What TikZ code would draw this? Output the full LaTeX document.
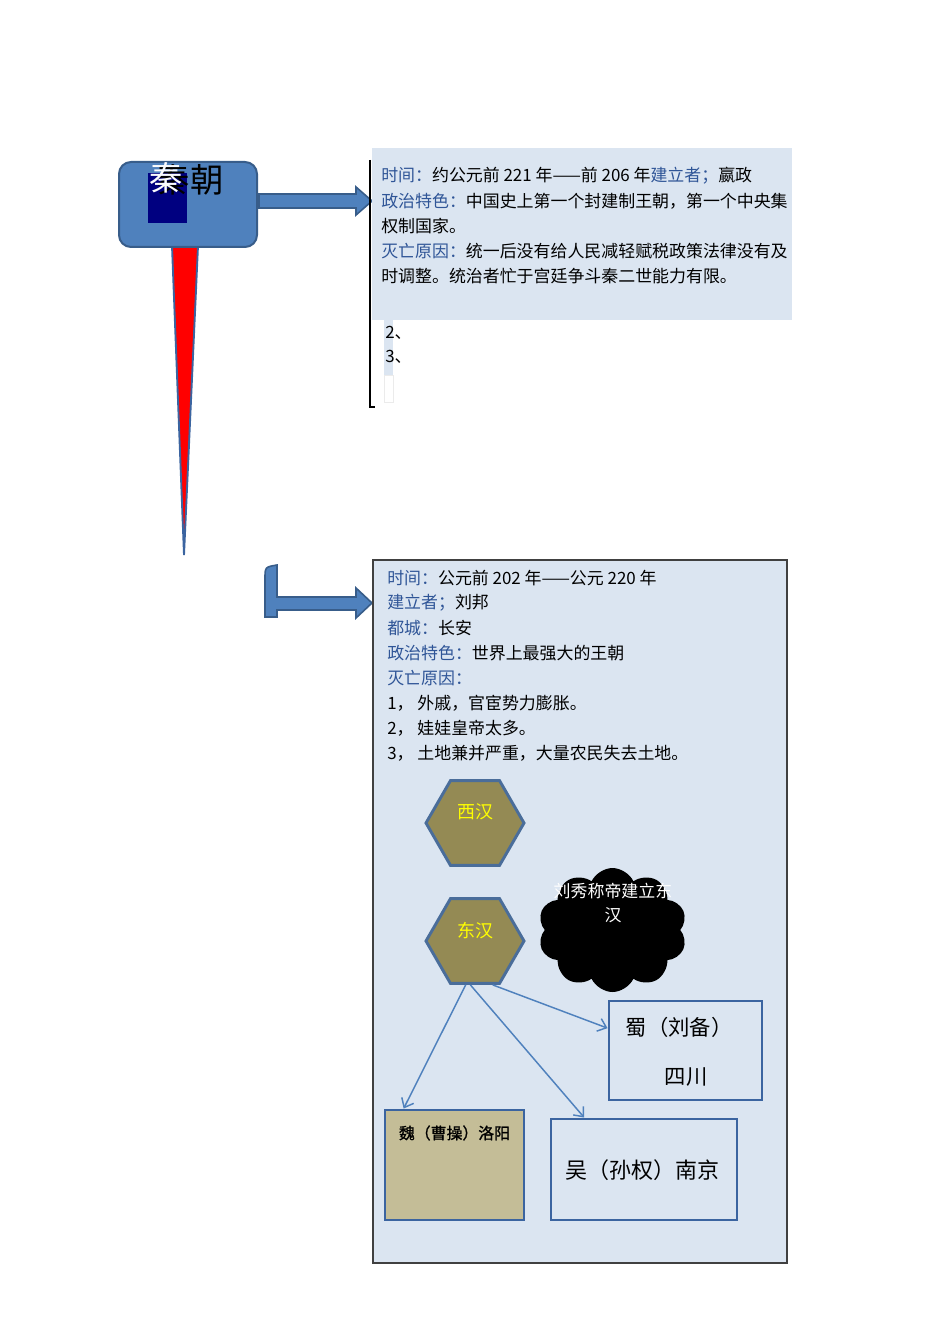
\documentclass[tikz,border=0pt]{standalone}
\usepackage{fontspec}
\newfontfamily\cjk{Noto Sans CJK SC}
\newfontfamily\cjkb[FakeBold=1.2]{Noto Sans CJK SC}
\usetikzlibrary{shapes.geometric,shapes.symbols,arrows.meta,calc}
\definecolor{bfill}{HTML}{4F81BD}
\definecolor{bdraw}{HTML}{385D8A}
\definecolor{lbg}{HTML}{DBE5F1}
\definecolor{lab}{HTML}{2F5597}
\definecolor{olivec}{HTML}{948A54}
\definecolor{hexb}{HTML}{4A6D9A}
\definecolor{boxb}{HTML}{3B64A0}
\definecolor{tanc}{HTML}{C4BD97}
\definecolor{navyc}{HTML}{000080}
\definecolor{yel}{HTML}{FFFF00}
\begin{document}
\begin{tikzpicture}[x=0.75pt,y=-0.75pt,
  txt/.style={anchor=west,inner sep=0pt,font=\cjk\fontsize{12.7pt}{15pt}\selectfont},
  hexa/.style={regular polygon,regular polygon sides=6,minimum size=73.5pt,inner sep=0pt,fill=olivec,draw=hexb,line width=2.2pt},
  hextxt/.style={inner sep=0pt,text=yel,font=\cjk\fontsize{13.5pt}{15pt}\selectfont},
  kbox/.style={rectangle,inner sep=0pt,draw=boxb,line width=2.2pt},
  conn/.style={draw=bfill,line width=1.1pt,-{Straight Barb[length=6pt,width=10pt]}},
  blockarrow/.style={fill=bfill,draw=bdraw,line width=1.2pt,line join=miter}]
\useasboundingbox (0,0) rectangle (950,1344);

% ---- Qin ----
\draw[fill=red,draw=boxb,line width=1.4pt] (172,246) -- (198,246) -- (184,555) -- cycle;
\node[rectangle,rounded corners=9pt,fill=bfill,draw=bdraw,line width=1.5pt,minimum width=103.5pt,minimum height=63.75pt,inner sep=0pt] (qin) at (188,204.5) {};
\node[rectangle,fill=navyc,minimum width=29.25pt,minimum height=37.5pt,inner sep=0pt] (qinnavy) at (167.5,198) {};
\node[inner sep=0pt,font=\cjk\fontsize{25pt}{28pt}\selectfont] (qinb) at (190,180) {秦朝};
\node[inner sep=0pt,text=white!85!lbg,font=\cjk\fontsize{25pt}{28pt}\selectfont] (qinw) at (166,178) {秦};

\draw[blockarrow] (259,194) -- (356,194) -- (356,187) -- (372,201) -- (356,215) -- (356,208) -- (259,208) -- cycle;

% ---- Qin text box ----
\node[rectangle,fill=lbg,minimum width=315pt,minimum height=129pt,inner sep=0pt] (qinbox) at (582,234) {};
\draw[line width=1pt] (370,160) -- (370,407) -- (375,407);
\fill[lbg] (384,320) rectangle (393,375);
\draw[fill=white,draw=black!8] (384,375) rectangle (393,402);
\node[txt] (q1) at (381,176) {\textcolor{lab}{时间：}约公元前 221 年——前 206 年\textcolor{lab}{建立者；}嬴政};
\node[txt] (q2) at (381,201) {\textcolor{lab}{政治特色：}中国史上第一个封建制王朝，第一个中央集};
\node[txt] (q3) at (381,226) {权制国家。};
\node[txt] (q4) at (381,251) {\textcolor{lab}{灭亡原因：}统一后没有给人民减轻赋税政策法律没有及};
\node[txt] (q5) at (381,276) {时调整。统治者忙于宫廷争斗秦二世能力有限。};
\node[txt] (q6) at (385,333) {2、};
\node[txt] (q7) at (385,357) {3、};

% ---- Han ----
\draw[blockarrow] (265,617) -- (265,579) .. controls (265,567) .. (277,565) -- (277,597) -- (356,597) -- (356,588) -- (372,603) -- (356,618) -- (356,610) -- (277,610) -- (277,617) -- cycle;

\node[rectangle,fill=lbg,draw=black!75,line width=1pt,minimum width=310.5pt,minimum height=527.25pt,inner sep=0pt] (hanbox) at (580,911.5) {};
\node[txt] (h1) at (387,578) {\textcolor{lab}{时间：}公元前 202 年——公元 220 年};
\node[txt] (h2) at (387,603) {\textcolor{lab}{建立者；}刘邦};
\node[txt] (h3) at (387,628) {\textcolor{lab}{都城：}长安};
\node[txt] (h4) at (387,653) {\textcolor{lab}{政治特色：}世界上最强大的王朝};
\node[txt] (h5) at (387,678) {\textcolor{lab}{灭亡原因：}};
\node[txt] (h6) at (387,703) {1， 外戚，官宦势力膨胀。};
\node[txt] (h7) at (387,728) {2， 娃娃皇帝太多。};
\node[txt] (h8) at (387,753) {3， 土地兼并严重，大量农民失去土地。};

\node[hexa] (xh) at (475,823) {};
\node[hextxt] (xht) at (475,812) {西汉};
\node[hexa] (dh) at (475,941) {};
\node[hextxt] (dht) at (475,931) {东汉};

\node[cloud,cloud puffs=10,cloud puff arc=130,aspect=1.2,fill=black,minimum width=111.75pt,minimum height=93pt,inner sep=0pt] (yun) at (612.5,930) {};
\node[inner sep=0pt,text=white,font=\cjk\fontsize{12.7pt}{15pt}\selectfont] (yt1) at (613,891) {刘秀称帝建立东};
\node[inner sep=0pt,text=white,font=\cjk\fontsize{12.7pt}{15pt}\selectfont] (yt2) at (613,915) {汉};

\node[kbox,fill=lbg,minimum width=114.75pt,minimum height=74.25pt] (shu) at (685.5,1050.5) {};
\node[inner sep=0pt,font=\cjk\fontsize{16pt}{18pt}\selectfont] (shu1) at (679,1027) {蜀（刘备）};
\node[inner sep=0pt,font=\cjk\fontsize{16pt}{18pt}\selectfont] (shu2) at (686,1077) {四川};

\node[kbox,fill=tanc,minimum width=104.25pt,minimum height=82.5pt] (wei) at (454.5,1165) {};
\node[inner sep=0pt,font=\cjkb\fontsize{11.9pt}{14pt}\selectfont] (wei1) at (454.5,1133) {魏（曹操）洛阳};

\node[kbox,fill=lbg,minimum width=139.5pt,minimum height=75.75pt] (wu) at (644,1169.5) {};
\node[inner sep=0pt,font=\cjk\fontsize{16.5pt}{18pt}\selectfont] (wu1) at (642.5,1170) {吴（孙权）南京};

\draw[conn] (dh.-102) -- (wei.132);
\draw[conn] (dh.-96) -- (wu.139);
\draw[conn] (dh.-68) -- (shu.164);
\end{tikzpicture}
\end{document}
